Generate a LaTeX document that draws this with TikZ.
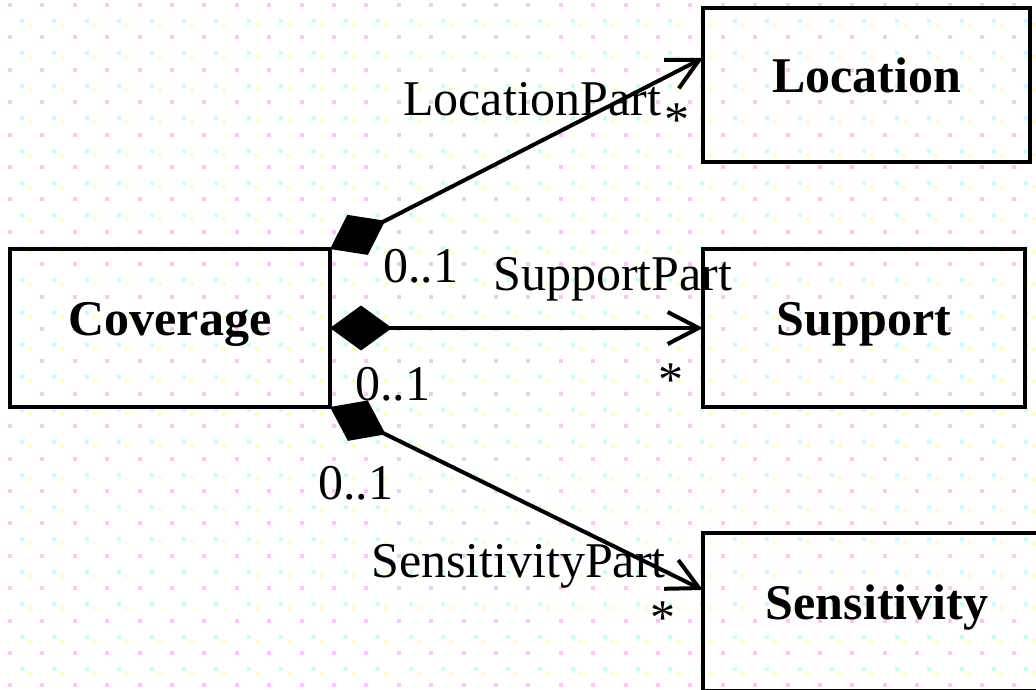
\documentclass[tikz,border=0pt]{standalone}
\usepackage{fontspec}
\setmainfont{Liberation Serif}
\usetikzlibrary{arrows.meta}
\definecolor{dotpink}{RGB}{255,195,250}
\definecolor{dotcyan}{RGB}{195,255,255}
\definecolor{dotyellow}{RGB}{255,255,195}

\begin{document}
\begin{tikzpicture}[x=1pt,y=-1pt,
  classbox/.style={draw,line width=4pt,outer sep=0pt,inner sep=0pt,minimum height=158pt,anchor=north west,font=\fontsize{50}{58}\selectfont\bfseries,text height=35pt,text depth=21pt},
  partof/.style={line width=4pt,{Diamond[length=62pt,width=45pt]}-{Straight Barb[length=31pt,width=32pt]}},
  rolename/.style={anchor=base west,inner sep=0pt,font=\fontsize{50}{58}\selectfont},
  multname/.style={anchor=base,inner sep=0pt,font=\fontsize{50}{58}\selectfont}]
\useasboundingbox (0,0) rectangle (1036,689);
\clip (0,0) rectangle (1036,689);
\fill[white] (0,0) rectangle (1036,689);
\foreach \i in {0,...,32}
  \foreach \j in {0,...,21} {
    \fill[dotpink] ({8+32.4*\i},{3+32.4*\j}) rectangle ++(4,4);
    \fill[dotcyan] ({20+32.4*\i},{19+32.4*\j}) rectangle ++(4,4);
    \fill[dotyellow] ({28+32.4*\i},{23+32.4*\j}) rectangle ++(4,4);
  }
\node[classbox,minimum width=320pt] (Coverage) at (10,249) {Coverage};
\node[classbox,minimum width=327pt,minimum height=154pt] (Location) at (703,8) {Location};
\node[classbox,minimum width=322pt] (Support) at (703,249) {Support};
\node[classbox,minimum width=348pt] (Sensitivity) at (703,533) {Sensitivity};
\draw[partof] (Coverage.north east) -- ([yshift=27pt]Location.west);
\draw[partof] (Coverage.east) -- (Support.west);
\draw[partof] (Coverage.south east) -- ([yshift=22pt]Sensitivity.west);
\node[rolename] (locPart) at (403,115) {LocationPart};
\node[multname] (locMany) at (677,136) {*};
\node[rolename] (locOne) at (383,282) {0..1};
\node[rolename] (supPart) at (493,290) {SupportPart};
\node[multname] (supMany) at (671,396) {*};
\node[rolename] (supOne) at (355,400) {0..1};
\node[rolename] (senOne) at (318,499) {0..1};
\node[rolename] (senPart) at (371,577) {SensitivityPart};
\node[multname] (senMany) at (663,634) {*};
\end{tikzpicture}
\end{document}
